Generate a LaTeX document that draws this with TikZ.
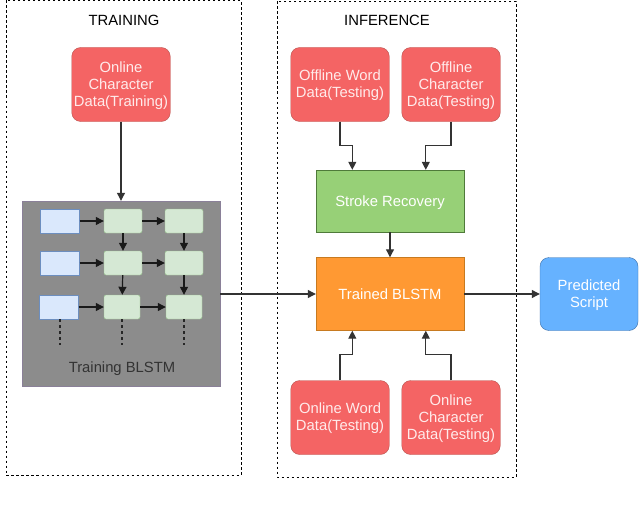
\documentclass[tikz,border=0pt]{standalone}
\usepackage{fontspec}
\setmainfont{Liberation Sans}
\usetikzlibrary{arrows.meta,calc}
\definecolor{redf}{HTML}{F46464}
\definecolor{redd}{HTML}{B85450}
\definecolor{cellc}{HTML}{D5E8D4}
\definecolor{celld}{HTML}{97C48C}
\definecolor{inf}{HTML}{DAE8FC}
\definecolor{ind}{HTML}{6C8EBF}
\definecolor{sg}{HTML}{97D077}
\definecolor{sgd}{HTML}{4F7A3A}
\definecolor{og}{HTML}{FF9933}
\definecolor{ogd}{HTML}{C77A20}
\definecolor{bg}{HTML}{66B2FF}
\definecolor{bgd}{HTML}{3B6FA8}
\definecolor{gg}{HTML}{8C8C8C}
\definecolor{ggd}{HTML}{8A8098}
\tikzset{
 x=1pt,y=-1pt,
 txt/.style={font=\fontsize{14.8}{17}\selectfont,align=center,inner sep=0pt},
 redbox/.style={draw=redd,fill=redf,rounded corners=9pt,minimum width=98.5pt,minimum height=74pt,text=white!92!red,txt},
 inbox/.style={draw=ind,fill=inf,minimum width=39pt,minimum height=24pt,inner sep=0pt},
 cell/.style={draw=celld,fill=cellc,rounded corners=2pt,minimum width=38pt,minimum height=24pt,inner sep=0pt},
 arr/.style={-{Triangle[length=8pt,width=8pt]},line width=1.2pt,black!90},
 lnk/.style={-{Triangle[length=8pt,width=8pt]},line width=1.1pt,black!80},
 dots/.style={line width=1.1pt,black!85,dash pattern=on 3pt off 3pt},
 region/.style={draw=black,line width=0.9pt,dash pattern=on 2.5pt off 2.5pt},
}
\begin{document}
\begin{tikzpicture}
\useasboundingbox (0,0) rectangle (640,511);
\fill[white] (0,0) rectangle (640,511);
\draw[region] (6,0.5) rectangle (241,475);
\draw[region] (277,1.5) rectangle (516,477);
\node[txt] (ttrain) at (124,20.5) {TRAINING};
\node[txt] (tinf) at (387,20.5) {INFERENCE};
\node[redbox] (a) at (121,84.5) {\rule{0pt}{13pt}Online\\Character\\Data(Training)};
\node[redbox] (b) at (340,84.5) {\rule{0pt}{13pt}Offline Word\\Data(Testing)};
\node[redbox] (c) at (451,84.5) {\rule{0pt}{13pt}Offline\\Character\\Data(Testing)};
\node[draw=sgd,fill=sg,minimum width=148pt,minimum height=62pt,txt,text=white,text depth=0pt] (s) at (390,201) {Stroke Recovery};
\node[draw=ogd,fill=og,minimum width=148pt,minimum height=73pt,txt,text=white] (t) at (390,294) {Trained BLSTM};
\node[redbox] (d) at (340,417.5) {\rule{0pt}{13pt}Online Word\\Data(Testing)};
\node[redbox] (e) at (451,417.5) {\rule{0pt}{13pt}Online\\Character\\Data(Testing)};
\node[draw=bgd,fill=bg,rounded corners=9pt,minimum width=98pt,minimum height=73pt,txt,text=white] (p) at (589,294) {\rule{0pt}{13pt}Predicted\\Script};
\node[draw=ggd,fill=gg,minimum width=198pt,minimum height=185pt,inner sep=0pt] (g) at (121,293.5) {};
\node[inbox] (i1) at (60,221) {};
\node[inbox] (i2) at (60,263) {};
\node[inbox] (i3) at (59,307) {};
\node[cell] (c11) at (123,221) {};
\node[cell] (c12) at (184,221) {};
\node[cell] (c21) at (123,263) {};
\node[cell] (c22) at (184,263) {};
\node[cell,minimum width=36pt] (c31) at (122,307) {};
\node[cell,minimum width=36pt] (c32) at (184,307) {};
\foreach \u/\v in {i1/c11,i2/c21,i3/c31,c11/c12,c21/c22,c31/c32,c11/c21,c21/c31,c12/c22,c22/c32}{\draw[arr] (\u) -- (\v);}
\coordinate (e1) at (60,345); \coordinate (e2) at (122,345); \coordinate (e3) at (184,345);
\draw[dots] (i3.south-|e1) -- (e1);
\draw[dots] (c31.south) -- (e2);
\draw[dots] (c32.south-|e3) -- (e3);
\node[font=\fontsize{14.8}{17}\selectfont,text=black!80,inner sep=0pt] (lab) at (122,368.5) {Training BLSTM};
\draw[lnk] (a) -- (g);
\draw[lnk] (g.east|-t) -- (t);
\draw[lnk] (t) -- (p);
\draw[lnk] (s.south) -- (t.north);
\draw[lnk] (b.south) |- ($(s.north west)+(36.5,-24.5)$) -- ($(s.north west)+(36.5,0)$);
\draw[lnk] (c.south) |- ($(s.north west)+(110,-24.5)$) -- ($(s.north west)+(110,0)$);
\draw[lnk] (d.north) |- ($(t.south west)+(36.5,24)$) -- ($(t.south west)+(36.5,0)$);
\draw[lnk] (e.north) |- ($(t.south west)+(110,24)$) -- ($(t.south west)+(110,0)$);
\end{tikzpicture}
\end{document}
